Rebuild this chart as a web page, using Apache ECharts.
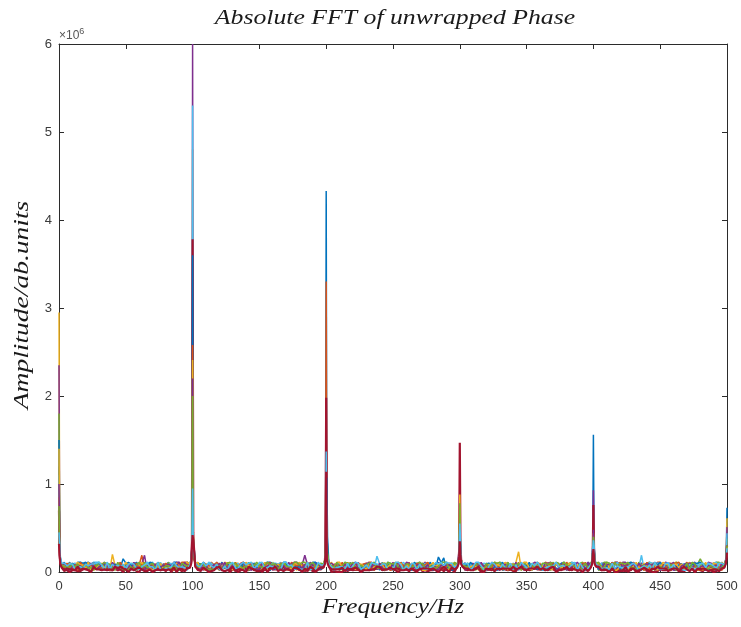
<!DOCTYPE html>
<html>
<head>
<meta charset="utf-8">
<script src="https://cdn.jsdelivr.net/npm/echarts@6/dist/echarts.min.js"></script>
<style>
  html, body { margin: 0; padding: 0; background: #fff; }
  #chart { width: 741px; height: 627px; }
</style>
</head>
<body>
<div id="chart"></div>
<script>
// |FFT| of the unwrapped phase for 14 channels.
// Amplitudes are in units of 1e4 (ab. units); background spectrum sampled every 2 Hz, 0..500 Hz.
const FREQ_STEP = 2;

const ch1Noise = [
  3,6,3,7,11,4,8,7,5,7, 10,11,9,11,5,4,5,10,6,8,
  4,8,6,5,15,10,5,4,9,11, 7,2,4,10,10,6,3,11,9,3,
  8,11,5,11,11,5,9,7,3,2, 7,10,4,2,11,9,6,11,6,6,
  7,11,4,5,2,9,10,3,8,6, 2,8,4,10,8,4,2,10,11,11,
  10,8,4,10,2,5,6,10,4,7, 5,6,4,3,3,9,2,8,9,11,
  10,4,3,6,10,2,10,8,7,3, 5,4,10,4,5,2,8,8,6,9,
  2,11,5,10,6,6,8,2,11,7, 7,2,7,10,4,4,5,3,9,4,
  7,5,17,11,6,2,10,3,4,10, 6,10,3,3,3,9,6,7,2,4,
  10,6,3,2,4,9,2,3,11,5, 10,7,4,3,3,2,7,7,7,11,
  8,6,6,8,4,4,11,6,10,11, 7,6,11,5,2,5,10,3,11,8,
  6,6,4,10,10,3,2,11,9,7, 8,8,7,11,5,5,6,6,8,3,
  4,10,6,9,7,8,6,10,4,5, 5,9,10,8,9,10,5,3,8,7,
  4,9,3,4,2,3,11,2,11,3, 6
];
const ch2Noise = [
  9,3,10,4,10,3,10,4,10,6, 7,11,2,6,7,4,5,7,5,8,
  2,4,10,9,6,9,3,5,7,4, 8,19,4,6,11,9,9,7,9,4,
  6,9,2,11,5,8,11,11,11,7, 11,7,9,6,11,8,8,11,8,9,
  8,4,9,9,4,6,2,9,8,8, 5,2,5,7,5,7,6,9,7,11,
  6,7,9,3,5,10,4,3,9,10, 7,4,7,3,8,8,6,4,9,6,
  4,9,6,8,8,5,11,3,11,5, 4,2,2,5,2,7,11,11,4,3,
  10,3,9,6,3,5,7,11,8,8, 4,11,2,6,5,7,9,4,11,2,
  2,5,5,6,4,11,7,4,8,2, 7,11,7,8,5,2,9,5,10,3,
  5,4,5,4,10,8,4,9,11,6, 5,6,11,2,9,8,5,4,5,5,
  10,4,11,10,10,2,9,7,5,3, 11,7,4,7,3,2,3,11,2,3,
  3,7,9,5,10,5,6,3,10,9, 11,5,2,9,2,4,3,7,6,2,
  10,11,3,6,11,11,5,6,10,10, 6,3,8,9,7,2,11,4,6,6,
  9,8,3,6,8,2,8,8,10,2, 10
];
const ch3Noise = [
  6,7,8,6,10,7,8,8,11,4, 5,6,8,2,5,6,10,8,3,2,
  20,7,6,5,4,8,8,6,10,4, 3,5,5,11,5,8,2,9,4,8,
  2,4,6,11,3,6,3,4,9,5, 9,4,6,7,10,9,2,2,8,8,
  2,8,5,3,7,7,10,10,3,9, 6,10,10,3,7,4,2,11,4,2,
  11,8,4,10,4,11,4,7,6,2, 11,3,9,3,7,5,8,6,5,8,
  9,10,11,4,7,11,2,5,8,2, 2,3,3,5,5,2,7,5,2,7,
  6,10,10,4,2,6,8,8,7,4, 3,5,10,6,3,6,8,11,7,3,
  11,6,3,7,3,3,8,2,11,6, 5,5,2,7,9,4,9,2,5,8,
  7,9,7,11,7,11,3,11,7,5, 2,11,23,3,10,8,3,3,9,5,
  10,3,11,5,4,8,3,3,9,11, 5,3,2,7,3,3,10,7,6,10,
  2,9,6,6,8,4,5,9,11,11, 8,4,9,6,11,7,8,9,5,7,
  3,10,10,7,9,7,4,9,4,6, 10,11,3,4,4,9,11,5,10,3,
  10,5,2,3,3,11,6,11,3,4, 11
];
const ch4Noise = [
  10,4,4,8,6,10,2,2,3,8, 10,6,9,9,6,3,3,10,7,5,
  9,6,4,5,6,7,6,6,4,6, 5,9,19,2,9,7,5,11,2,9,
  9,9,6,6,11,11,4,2,8,11, 7,7,3,9,2,4,9,8,3,10,
  5,10,8,2,8,4,8,3,5,5, 3,5,10,6,7,10,5,2,2,2,
  9,7,4,2,6,6,11,5,5,10, 4,8,19,8,2,4,11,9,8,2,
  8,9,5,9,3,3,5,4,2,2, 9,2,11,5,4,10,9,2,11,3,
  4,9,6,6,5,9,6,9,2,6, 9,4,5,2,8,11,8,11,9,9,
  4,2,11,5,3,2,3,6,3,8, 11,4,10,5,8,10,3,11,2,4,
  7,7,3,7,3,2,10,8,7,9, 6,8,5,9,9,4,3,3,3,4,
  7,4,5,10,11,9,10,6,6,4, 7,2,7,8,11,7,5,8,11,8,
  9,9,2,9,10,7,6,6,11,11, 8,11,11,8,9,11,6,8,10,8,
  6,6,7,6,11,2,7,11,10,9, 11,5,3,8,5,8,10,10,11,4,
  5,2,2,11,10,9,11,5,3,4, 9
];
const ch5Noise = [
  11,10,5,5,8,9,5,5,8,4, 6,6,2,8,7,8,8,6,5,2,
  10,8,2,4,3,5,11,6,11,6, 8,5,11,7,4,4,6,9,5,9,
  3,11,2,9,2,4,3,9,11,10, 8,2,11,6,5,9,2,4,9,9,
  2,7,5,11,4,3,9,3,9,8, 4,11,5,3,9,8,9,7,4,5,
  10,6,8,9,6,10,3,10,6,8, 9,8,8,11,6,2,7,3,5,4,
  2,2,2,7,8,10,3,4,9,3, 6,7,4,8,5,7,8,2,10,4,
  9,9,10,7,9,9,3,5,6,4, 9,7,9,9,10,11,8,2,11,3,
  9,5,8,5,9,3,9,10,9,4, 3,6,8,10,6,6,2,11,2,3,
  4,4,6,11,7,5,6,5,2,3, 6,8,7,6,11,7,10,7,5,9,
  3,2,7,2,9,11,4,4,9,11, 8,10,11,4,7,10,11,4,5,7,
  6,4,2,3,11,11,7,8,3,3, 4,3,4,11,2,4,3,11,8,2,
  10,8,6,2,5,6,6,3,10,3, 7,11,10,3,5,8,4,11,9,9,
  15,9,9,3,5,2,11,11,8,2, 7
];
const ch6Noise = [
  9,9,5,8,3,9,10,4,3,7, 6,4,6,11,11,11,4,4,11,7,
  9,8,5,7,3,6,10,4,4,2, 10,4,8,11,10,11,7,3,11,5,
  8,8,10,2,5,5,3,10,4,7, 4,10,10,8,11,5,11,10,6,11,
  8,6,8,7,3,2,7,10,4,2, 11,5,11,4,5,11,10,4,11,6,
  10,10,9,11,5,5,4,2,5,8, 4,7,2,11,6,6,5,3,3,9,
  5,2,3,4,5,10,3,11,9,2, 8,10,6,3,8,3,6,2,5,18,
  9,2,3,11,10,5,9,8,9,11, 5,4,2,8,10,5,4,10,4,5,
  9,8,6,8,6,10,2,6,4,11, 7,5,3,3,10,2,4,5,4,10,
  9,10,4,7,2,11,10,3,11,6, 7,7,10,3,7,5,2,3,9,7,
  8,9,3,9,5,8,3,5,5,4, 2,8,11,10,3,3,4,7,2,11,
  11,8,3,10,3,10,10,3,7,11, 5,2,6,3,8,11,2,5,19,3,
  7,11,10,10,10,10,7,3,11,5, 6,7,10,2,9,4,9,5,10,8,
  8,9,5,10,7,10,11,6,4,4, 10
];
const ch7Noise = [
  5,1,3,2,0,2,2,1,1,3, 4,4,4,4,4,4,4,3,3,2,
  2,4,2,3,0,4,4,4,5,1, 0,5,4,2,3,1,2,3,2,3,
  1,6,0,4,6,3,1,3,5,4, 5,0,2,4,4,5,4,4,5,5,
  3,4,6,4,0,3,3,0,2,6, 4,2,5,2,2,3,0,3,2,5,
  3,3,4,4,6,3,5,0,3,5, 2,6,1,4,3,1,1,3,3,1,
  2,1,0,1,0,0,0,3,1,3, 2,3,3,3,2,5,2,3,3,6,
  5,3,2,5,3,3,2,0,3,3, 3,1,4,2,0,6,1,2,1,2,
  2,6,6,4,1,4,2,3,0,3, 5,4,3,2,5,3,4,4,0,4,
  2,3,2,5,5,4,6,3,2,3, 1,1,5,4,5,6,2,3,6,3,
  3,3,2,3,5,3,2,3,2,5, 4,3,2,5,1,4,5,2,2,3,
  1,3,5,2,2,3,0,5,3,2, 1,2,1,2,2,6,3,0,6,6,
  1,3,0,0,1,4,2,2,3,2, 6,6,1,1,1,4,5,4,0,4,
  2,1,6,4,2,0,1,4,3,4, 1
];
const ch8Noise = [
  10,9,11,4,4,10,6,11,11,10, 11,4,2,10,8,10,2,7,10,4,
  7,9,6,11,4,9,11,8,3,2, 6,10,6,3,11,10,6,6,6,5,
  8,5,6,8,5,4,6,6,11,8, 10,6,10,9,7,8,2,4,5,5,
  8,4,6,10,4,9,2,6,3,11, 9,10,8,4,5,4,2,11,2,2,
  4,3,8,2,11,11,2,4,5,7, 5,2,6,5,8,11,11,6,3,10,
  6,11,3,6,8,5,3,6,2,11, 5,6,5,3,9,5,10,3,6,5,
  8,6,2,7,6,8,4,7,5,3, 7,4,2,11,8,3,10,5,8,11,
  2,10,10,10,16,2,9,2,3,8, 9,8,10,5,11,8,6,4,6,5,
  9,10,3,6,2,7,11,4,9,3, 6,7,8,5,7,6,11,2,8,3,
  5,2,5,3,2,9,4,2,10,7, 3,2,5,10,5,9,7,2,7,3,
  2,3,3,7,9,6,9,9,2,6, 3,9,3,10,11,10,8,3,2,8,
  10,9,5,11,8,11,8,7,7,4, 3,4,8,9,3,7,6,8,10,10,
  11,7,9,2,5,7,2,5,7,6, 9
];
const ch9Noise = [
  2,11,5,10,6,6,8,2,11,7, 7,2,7,10,4,4,5,3,9,4,
  7,5,7,11,6,2,10,3,4,10, 6,10,3,3,3,9,6,7,2,4,
  10,6,3,2,4,9,2,3,11,5, 10,7,4,3,3,2,7,7,7,11,
  8,6,6,8,4,4,11,6,10,11, 7,6,11,5,2,5,10,3,11,8,
  6,6,4,10,10,3,2,11,9,7, 8,8,7,11,5,5,6,6,8,3,
  4,10,6,9,7,8,6,10,4,5, 5,9,10,8,9,10,5,3,8,7,
  4,9,3,4,2,3,11,2,11,3, 6,7,8,6,10,7,8,8,11,4,
  5,6,8,2,5,6,10,8,3,2, 6,7,6,5,4,8,8,6,10,4,
  3,5,5,11,5,8,2,9,4,8, 2,4,6,11,3,6,3,4,9,5,
  9,4,6,7,10,9,2,2,8,8, 2,8,5,3,7,7,10,10,3,9,
  6,10,10,3,7,4,2,11,4,2, 11,8,4,10,4,11,4,7,6,2,
  11,3,9,3,7,5,8,6,5,8, 9,10,11,4,7,11,2,5,8,2,
  2,3,3,5,5,2,7,5,2,7, 6
];
const ch10Noise = [
  10,3,9,6,3,5,7,11,8,8, 4,11,2,6,5,7,9,4,11,2,
  2,5,5,6,4,11,7,4,8,2, 7,11,7,8,5,2,9,5,10,3,
  5,4,5,4,10,8,4,9,11,6, 5,6,11,2,9,8,5,4,5,5,
  10,4,11,10,10,2,9,7,5,3, 11,7,4,7,3,2,3,11,2,3,
  3,7,9,5,10,5,6,3,10,9, 11,5,2,9,2,4,3,7,6,2,
  10,11,3,6,11,11,5,6,10,10, 6,3,8,9,7,2,11,4,6,6,
  9,8,3,6,8,2,8,8,10,2, 10,4,4,8,6,10,2,2,3,8,
  10,6,9,9,6,3,3,10,7,5, 9,6,4,5,6,7,6,6,4,6,
  5,9,3,2,9,7,5,11,2,9, 9,9,6,6,11,11,4,2,8,11,
  7,7,3,9,2,4,9,8,3,10, 5,10,8,2,8,4,8,3,5,5,
  3,5,10,6,7,10,5,2,2,2, 9,7,4,2,6,6,11,5,5,10,
  4,8,7,8,2,4,11,9,8,2, 8,9,5,9,3,3,5,4,2,2,
  9,2,11,5,4,10,9,2,11,3, 4
];
const ch11Noise = [
  6,10,10,4,2,6,8,8,7,4, 3,5,10,6,3,6,8,11,7,3,
  11,6,3,7,3,3,8,2,11,6, 5,5,2,7,9,4,9,2,5,8,
  7,9,7,11,7,11,3,11,7,5, 2,11,4,3,10,8,3,3,9,5,
  10,3,11,5,4,8,3,3,9,11, 5,3,2,7,3,3,10,7,6,10,
  2,9,6,6,8,4,5,9,11,11, 8,4,9,6,11,7,8,9,5,7,
  3,10,10,7,9,7,4,9,4,6, 10,11,3,4,4,9,11,5,10,3,
  10,5,2,3,3,11,6,11,3,4, 11,10,5,5,8,9,5,5,8,4,
  6,6,2,8,7,8,8,6,5,2, 10,8,2,4,3,5,11,6,11,6,
  8,5,11,7,4,4,6,9,5,9, 3,11,2,9,2,4,3,9,11,10,
  8,2,11,6,5,9,2,4,9,9, 2,7,5,11,4,3,9,3,9,8,
  4,11,5,3,9,8,9,7,4,5, 10,6,8,9,6,10,3,10,6,8,
  9,8,8,11,6,2,7,3,5,4, 2,2,2,7,8,10,3,4,9,3,
  6,7,4,8,5,7,8,2,10,4, 9
];
const ch12Noise = [
  4,9,6,6,5,9,6,9,2,6, 9,4,5,2,8,11,8,11,9,9,
  4,2,11,5,3,2,3,6,3,8, 11,4,10,5,8,10,3,11,2,4,
  7,7,3,7,3,2,10,8,7,9, 6,8,5,9,9,4,3,3,3,4,
  7,4,5,10,11,9,10,6,6,4, 7,2,7,8,11,7,5,8,11,8,
  9,9,2,9,10,7,6,6,11,11, 8,11,11,8,9,11,6,8,10,8,
  6,6,7,6,11,2,7,11,10,9, 11,5,3,8,5,8,10,10,11,4,
  5,2,2,11,10,9,11,5,3,4, 9,9,5,8,3,9,10,4,3,7,
  6,4,6,11,11,11,4,4,11,7, 9,8,5,7,3,6,10,4,4,2,
  10,4,8,11,10,11,7,3,11,5, 8,8,10,2,5,5,3,10,4,7,
  4,10,10,8,11,5,11,10,6,11, 8,6,8,7,3,2,7,10,4,2,
  11,5,11,4,5,11,10,4,11,6, 10,10,9,11,5,5,4,2,5,8,
  4,7,2,11,6,6,5,3,3,9, 5,2,3,4,5,10,3,11,9,2,
  8,10,6,3,8,3,6,2,5,11, 9
];
const ch13Noise = [
  9,9,10,7,9,9,3,5,6,4, 9,7,9,9,10,11,8,2,11,3,
  9,5,8,5,9,3,9,10,9,4, 3,6,8,10,6,6,2,11,2,3,
  4,4,6,11,7,5,6,5,2,3, 6,8,7,6,11,7,10,7,5,9,
  3,2,7,2,9,11,4,4,9,11, 8,10,11,4,7,10,11,4,5,7,
  6,4,2,3,11,11,7,8,3,3, 4,3,4,11,2,4,3,11,8,2,
  10,8,6,2,5,6,6,3,10,3, 7,11,10,3,5,8,4,11,9,9,
  6,9,9,3,5,2,11,11,8,2, 7,3,10,9,2,9,4,3,3,5,
  6,11,9,11,7,11,10,10,5,9, 4,11,9,10,2,6,11,11,7,3,
  2,7,11,9,5,3,9,5,4,10, 3,8,2,11,8,5,3,10,7,11,
  7,2,4,6,6,7,11,6,7,7, 5,6,8,11,2,10,5,2,4,8,
  6,4,7,4,4,5,2,10,4,7, 5,5,6,6,8,10,7,2,5,7,
  4,8,3,11,5,3,3,10,10,3, 9,3,2,3,2,2,2,5,3,5,
  9,10,5,10,9,7,4,10,10,8, 7
];
const ch14Noise = [
  2,0,1,4,3,3,2,6,2,4, 3,2,0,6,3,3,2,3,2,3,
  2,6,4,6,4,3,0,4,2,4, 5,3,1,1,3,0,2,3,2,3,
  2,3,2,5,0,4,3,1,4,4, 5,5,3,1,5,3,0,1,2,5,
  6,2,1,2,3,6,1,3,3,2, 0,6,4,3,1,1,2,5,0,4,
  4,6,1,3,1,3,3,1,5,4, 3,0,4,1,6,4,0,3,5,1,
  5,4,3,3,3,3,5,1,4,3, 4,5,3,0,2,2,2,3,3,6,
  6,2,3,3,5,3,4,4,2,2, 3,2,4,2,2,3,4,4,4,3,
  4,2,0,3,6,3,0,5,3,2, 5,2,4,4,2,2,4,6,1,0,
  4,3,4,1,4,3,4,4,4,3, 6,3,4,6,3,2,4,4,4,6,
  3,4,3,2,5,6,0,2,3,3, 6,2,4,3,2,2,0,4,1,4,
  2,3,6,2,3,2,0,4,0,0, 2,1,6,0,4,4,0,2,3,5,
  3,0,4,3,6,4,4,4,1,3, 4,4,1,4,6,3,1,4,0,4,
  3,4,3,1,2,3,3,1,4,3, 6
];

// Finer samples around the DC line and the 100 Hz harmonics (Hz)
const peakFreqs = [
  0, 0.5, 1, 2,
  98, 99, 99.5, 100, 100.5, 101, 102,
  198, 199, 199.5, 200, 200.5, 201, 202,
  298, 299, 299.5, 300, 300.5, 301, 302,
  398, 399, 399.5, 400, 400.5, 401, 402,
  498, 499, 499.5, 500
];
const ch1Peaks  = [120,30,14,8,  8,14,25,300,30,18,9,  8,12,25,433,30,15,9,  8,12,20,40,22,12,8,   8,12,24,156,28,13,8,  8,14,25,73];
const ch2Peaks  = [90,25,12,7,   7,12,22,250,28,16,8,  7,11,22,330,26,14,8,  7,11,18,60,20,11,7,   7,11,20,45,22,12,7,   7,12,20,35];
const ch3Peaks  = [295,40,16,9,  9,15,30,480,35,20,10, 9,13,20,120,24,16,9,  9,13,22,70,24,14,9,   9,13,22,60,30,14,9,   9,13,22,61];
const ch4Peaks  = [235,35,15,8,  8,16,35,600,40,22,9,  8,12,18,90,22,13,8,   8,14,30,45,28,15,8,   8,12,26,93,26,13,8,   8,12,24,51];
const ch5Peaks  = [180,28,13,9,  7,13,24,170,30,18,8,  7,14,25,100,55,20,9,  7,12,20,65,22,13,9,   7,12,20,50,24,13,9,   7,11,18,38];
const ch6Peaks  = [110,22,14,10, 9,14,30,530,36,20,10, 9,12,24,140,28,15,10, 9,13,24,50,26,12,8,   9,13,28,70,32,14,8,   9,13,22,44];
const ch7Peaks  = [70,20,11,6,   6,12,26,378,45,25,8,  6,11,28,198,35,18,7,  6,10,24,147,30,14,7,  6,10,22,76,26,12,7,   6,10,16,30];
const ch8Peaks  = [150,30,12,8,  8,13,28,360,38,30,9,  8,12,20,60,107,40,9,  8,12,28,48,35,13,9,   8,12,30,40,34,14,9,   8,12,20,28];
const ch9Peaks  = [85,26,10,7,   7,11,22,258,32,20,8,  7,10,18,80,25,14,8,   7,11,20,58,24,12,8,   7,11,19,35,22,12,8,   7,11,18,25];
const ch10Peaks = [140,24,12,9,  9,14,25,241,42,24,9,  8,11,20,70,30,16,9,   8,12,22,88,26,14,9,   8,12,24,44,27,13,9,   8,12,16,29];
const ch11Peaks = [100,30,15,7,  8,12,24,220,35,22,8,  7,10,19,60,24,15,8,   7,13,32,42,30,12,8,   7,12,25,48,26,12,8,   7,10,17,26];
const ch12Peaks = [75,22,13,8,   7,13,22,200,30,18,9,  9,14,30,52,48,22,10,  9,12,21,78,24,13,10,  9,13,22,40,25,13,10,  9,12,20,30];
const ch13Peaks = [45,33,18,10,  9,15,26,95,28,20,10,  8,12,22,137,26,14,9,  8,11,23,55,38,14,9,   8,11,26,36,30,14,9,   8,11,19,27];
const ch14Peaks = [32,18,9,5,    5,10,30,42,44,28,6,   5,9,20,114,15,10,6,   5,9,18,35,20,9,6,     5,9,18,26,17,9,6,     5,9,14,22];

const channelNoise = [ch1Noise, ch2Noise, ch3Noise, ch4Noise, ch5Noise, ch6Noise, ch7Noise,
                      ch8Noise, ch9Noise, ch10Noise, ch11Noise, ch12Noise, ch13Noise, ch14Noise];
const channelPeaks = [ch1Peaks, ch2Peaks, ch3Peaks, ch4Peaks, ch5Peaks, ch6Peaks, ch7Peaks,
                      ch8Peaks, ch9Peaks, ch10Peaks, ch11Peaks, ch12Peaks, ch13Peaks, ch14Peaks];

// Default line colour order, cycled over the channels
const lineColors = ['#0072BD', '#D95319', '#EDB120', '#7E2F8E', '#77AC30', '#4DBEEE', '#A2142F'];

const xMax = 500;
const yMax = 600;          // 6 x 10^6 in 1e4 units
const yTickStep = 100;     // 1 x 10^6

const chartTitle = 'Absolute FFT of unwrapped Phase';
const xAxisTitle = 'Frequency/Hz';
const yAxisTitle = 'Amplitude/ab.units';

function channelSeriesData(noise, peaks) {
  const byFreq = new Map();
  noise.forEach((v, i) => {
    const f = i * FREQ_STEP;
    if (f <= xMax) byFreq.set(f, v);
  });
  peakFreqs.forEach((f, j) => byFreq.set(f, peaks[j]));
  return Array.from(byFreq.entries()).sort((a, b) => a[0] - b[0]);
}

const axisColor = '#2b2b2b';
const tickLabelStyle = { color: '#3a3a3a', fontSize: 13, fontFamily: 'Liberation Sans, Arial, sans-serif' };
const mathFont = 'italic 22px Liberation Serif, serif';

// Centred italic label, stretched horizontally to the width of the math-italic typeface
function mathLabel(text, cx, cy, stretch, rotation) {
  return {
    type: 'text', x: cx, y: cy, rotation: rotation || 0, scaleX: stretch, scaleY: 1,
    style: { text: text, font: mathFont, fill: '#1a1a1a', textAlign: 'center', textVerticalAlign: 'middle' }
  };
}

const chart = echarts.init(document.getElementById('chart'), null, { renderer: 'canvas' });

chart.setOption({
  animation: false,
  backgroundColor: '#ffffff',
  grid: { left: 59, right: 14, top: 44, bottom: 55, containLabel: false },
  xAxis: [
    {
      type: 'value', min: 0, max: xMax, interval: 50,
      axisLine: { lineStyle: { color: axisColor, width: 1 } },
      axisTick: { inside: true, length: 5, lineStyle: { color: axisColor } },
      axisLabel: Object.assign({ margin: 8 }, tickLabelStyle),
      splitLine: { show: false }
    },
    {
      type: 'value', position: 'top', min: 0, max: xMax, interval: 50,
      axisLine: { onZero: false, lineStyle: { color: axisColor, width: 1 } },
      axisTick: { inside: true, length: 5, lineStyle: { color: axisColor } },
      axisLabel: { show: false },
      splitLine: { show: false }
    }
  ],
  yAxis: [
    {
      type: 'value', min: 0, max: yMax, interval: yTickStep,
      axisLine: { show: true, lineStyle: { color: axisColor, width: 1 } },
      axisTick: { show: true, inside: true, length: 5, lineStyle: { color: axisColor } },
      axisLabel: Object.assign({ margin: 7, formatter: v => String(v / yTickStep) }, tickLabelStyle),
      splitLine: { show: false }
    },
    {
      type: 'value', position: 'right', min: 0, max: yMax, interval: yTickStep,
      axisLine: { show: true, onZero: false, lineStyle: { color: axisColor, width: 1 } },
      axisTick: { show: true, inside: true, length: 5, lineStyle: { color: axisColor } },
      axisLabel: { show: false },
      splitLine: { show: false }
    }
  ],
  graphic: [
    mathLabel(chartTitle, 395, 18, 1.17),
    mathLabel(xAxisTitle, 393, 607, 1.15),
    mathLabel(yAxisTitle, 22, 305, 1.25, Math.PI / 2),
    {
      type: 'text', left: 59, top: 27,
      style: {
        text: '{m|\u00d710}{e|6}',
        rich: {
          m: { fontSize: 12, fontFamily: 'Liberation Sans, Arial, sans-serif', fill: '#555', verticalAlign: 'bottom' },
          e: { fontSize: 9, fontFamily: 'Liberation Sans, Arial, sans-serif', fill: '#555', verticalAlign: 'top', padding: [0, 0, 6, 0] }
        }
      }
    }
  ],
  series: channelNoise.map((noise, k) => {
    const color = lineColors[k % lineColors.length];
    // the dark-red channels sit on top and read as a denser floor band
    const width = (k % lineColors.length === 6) ? 2.2 : 1.5;
    return {
      name: 'ch' + (k + 1),
      type: 'line',
      xAxisIndex: 0,
      yAxisIndex: 0,
      data: channelSeriesData(noise, channelPeaks[k]),
      showSymbol: false,
      symbol: 'none',
      silent: true,
      lineStyle: { width: width, color: color },
      itemStyle: { color: color }
    };
  })
});
</script>
</body>
</html>
